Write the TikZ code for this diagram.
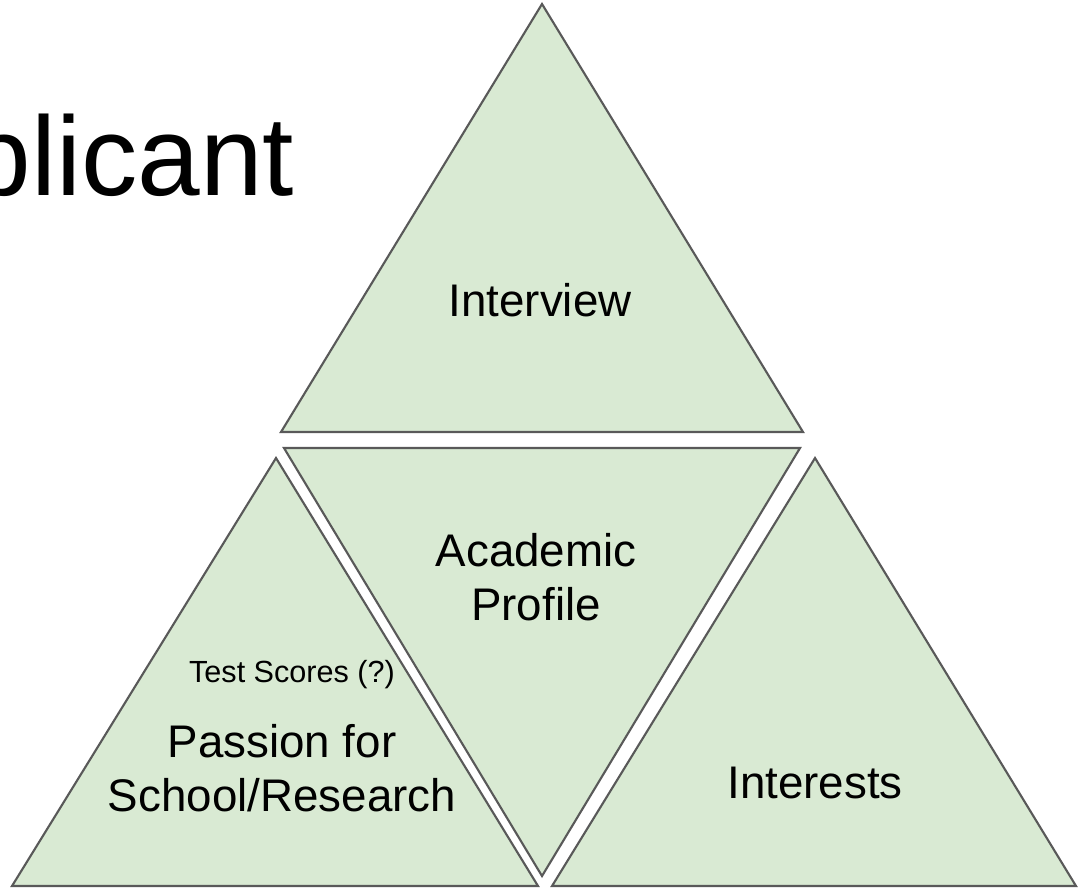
\documentclass[tikz,border=0pt]{standalone}
\usepackage{fontspec}
\setmainfont{Liberation Sans}
\usetikzlibrary{positioning}

\definecolor{pyrfill}{HTML}{D9EAD3}
\definecolor{pyredge}{HTML}{595959}

\begin{document}
\begin{tikzpicture}[
  x=0.01cm, y=-0.01cm,
  tri/.style={draw=pyredge, fill=pyrfill, line width=0.6pt, line join=miter},
  lbl/.style={align=center, inner sep=0pt, font=\fontsize{13}{15.5}\selectfont},
  small/.style={inner sep=0pt, font=\fontsize{8.7}{10}\selectfont}
]
\useasboundingbox (0,0) rectangle (1086,890);

% Title (cut off at the left edge)
\begin{scope}
  \clip (0,0) rectangle (1086,890);
  \node[anchor=base east, inner sep=0pt, font=\fontsize{32}{38}\selectfont] (title) at (295,195) {Applicant};
\end{scope}

% Corners of the four triangles
\coordinate (top-a) at (542,4);
\coordinate (top-l) at (281,432);
\coordinate (top-r) at (803,432);
\coordinate (mid-l) at (284,448);
\coordinate (mid-r) at (800,448);
\coordinate (mid-b) at (542,876);
\coordinate (left-a) at (276,458);
\coordinate (left-l) at (12,886);
\coordinate (left-r) at (538,886);
\coordinate (right-a) at (815,458);
\coordinate (right-l) at (552,886);
\coordinate (right-r) at (1076,886);

% Triangles
\draw[tri] (top-a) -- (top-l) -- (top-r) -- cycle;
\draw[tri] (mid-l) -- (mid-r) -- (mid-b) -- cycle;
\draw[tri] (left-a) -- (left-l) -- (left-r) -- cycle;
\draw[tri] (right-a) -- (right-l) -- (right-r) -- cycle;

% Labels
\node[lbl] (interview) at (540,300) {Interview};
\node[lbl] (academic) at (536,577) {Academic\\Profile};
\node[small] (scores) at (292,675) {Test Scores (?)};
\node[lbl] (passion) at (282,768) {Passion for\\School/Research};
\node[lbl] (interests) at (815,783) {Interests};

\end{tikzpicture}
\end{document}
